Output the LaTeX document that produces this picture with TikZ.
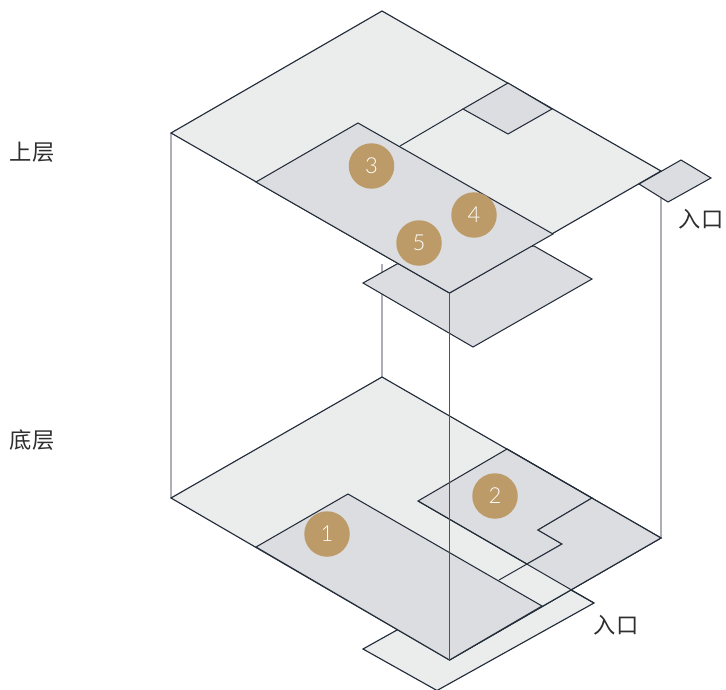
\documentclass[tikz,border=0pt]{standalone}
\usepackage{fontspec}
\setmainfont{Lato}
\newfontfamily\cjk{Noto Sans CJK SC}
\newfontfamily\digitfont{Lato Light}
\definecolor{plate}{HTML}{EBEDED}
\definecolor{room}{HTML}{DCDDE0}
\definecolor{edge}{HTML}{232D3A}
\definecolor{pillar}{HTML}{ADAEB8}
\definecolor{gold}{HTML}{BC9B68}
\definecolor{ink}{HTML}{2E2E2E}
\tikzset{
  lightplate/.style={fill=plate,draw=edge,line width=1.15pt,line join=miter},
  greyroom/.style={fill=room,draw=edge,line width=1.05pt,line join=miter},
  fineline/.style={draw=edge,line width=1pt},
  pillarline/.style={draw=pillar,line width=1.1pt},
  frontpillar/.style={draw=edge!70!pillar,line width=1pt},
  marker/.style={circle,fill=gold,minimum size=45.5pt,inner sep=0pt,text=white,font=\digitfont\fontsize{22}{22}\selectfont},
  caption/.style={text=ink,font=\cjk\fontsize{22.3}{22.3}\selectfont,inner sep=0pt}
}
\begin{document}
\begin{tikzpicture}[x=1pt,y=-1pt]
\useasboundingbox (0,0) rectangle (726,690);
% upper level points
\coordinate (ut) at (382,11);
\coordinate (ul) at (171,133);
\coordinate (ur) at (661,171);
\coordinate (uf) at (449.5,293);
\coordinate (ue) at (661,198);
\coordinate (ub) at (382,264);
% lower level points
\coordinate (lt) at (382,377);
\coordinate (ll) at (171,498);
\coordinate (lr) at (661,538);
\coordinate (lf) at (449.5,660);
% pillars behind
\draw[pillarline] (ul) -- (ll);
\draw[pillarline] (ub) -- (lt);
\draw[pillarline] (ue) -- (lr);
% lower level
\path[lightplate] (397,630) -- (363,649) -- (437,690.5) -- (594,603) -- (571,590) -- cycle;
\path[lightplate] (lt) -- (ll) -- (lf) -- (lr) -- cycle;
\path[greyroom] (507,449) -- (418,501) -- (527,564) -- (562,544) -- (538,530) -- (592,498) -- cycle;
\path[fill=room] (592,498) -- (538,530) -- (562,544) -- (527,564) -- (571,590) -- (lr) -- cycle;
\path[fill=plate] (499,580) -- (527,564) -- (571,590) -- (542,606) -- cycle;
\draw[fineline] (592,498) -- (538,530) -- (562,544) -- (499,580);
\draw[lightplate,fill=none] (507,449) -- (lr) -- (lf);
\path[greyroom] (348,494) -- (256,547) -- (lf) -- (542,606) -- cycle;
\draw[fineline] (418,501) -- (594,603);
% upper level
\path[greyroom] (397,264) -- (363,283) -- (473,347) -- (592,279) -- (534,246) -- cycle;
\path[lightplate] (ut) -- (ul) -- (uf) -- (ur) -- cycle;
\path[greyroom] (508,83) -- (463,109) -- (508,134) -- (552,109) -- cycle;
\draw[fineline] (463,109) -- (400,146);
\path[greyroom] (358,123) -- (256,182) -- (uf) -- (553,234) -- cycle;
\path[greyroom] (681,160) -- (639,184) -- (668,202) -- (711,178) -- cycle;
% front pillar
\draw[frontpillar] (uf) -- (lf);
% markers
\node[marker] (m1) at (327,534) {1};
\node[marker] (m2) at (495,496) {2};
\node[marker] (m3) at (371.5,166) {3};
\node[marker] (m4) at (474,215) {4};
\node[marker] (m5) at (419,243) {5};
% labels
\node[caption] (c1) at (32,152) {上层};
\node[caption] (c2) at (32,440) {底层};
\node[caption] (c3) at (701,219) {入口};
\node[caption] (c4) at (616,625) {入口};
\end{tikzpicture}
\end{document}
